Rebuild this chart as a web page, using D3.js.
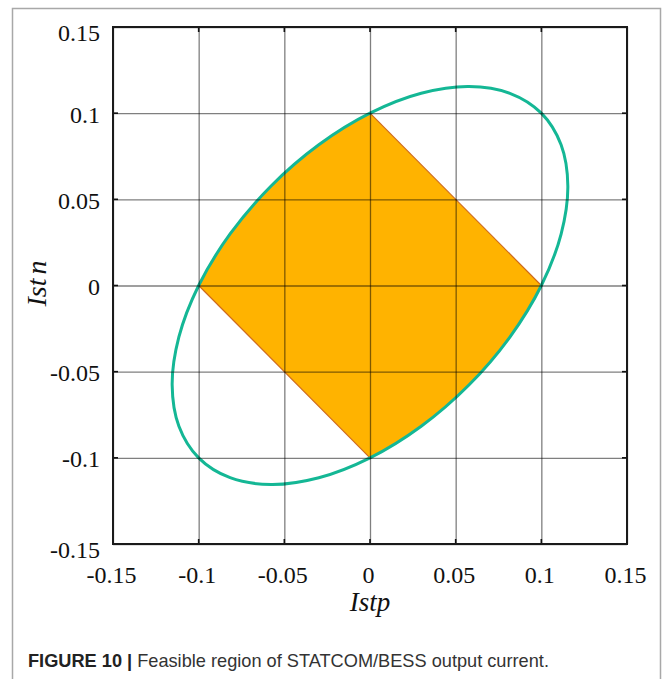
<!DOCTYPE html>
<html>
<head>
<meta charset="utf-8">
<script src="https://cdn.jsdelivr.net/npm/d3@7"></script>
<style>
  html, body { margin: 0; padding: 0; background: #fff; }
  svg { display: block; }
</style>
</head>
<body>
<svg id="chart" width="664" height="679"></svg>
<script>
// Axis ticks shared by both axes
const tickValues = [-0.15, -0.1, -0.05, 0, 0.05, 0.1, 0.15];
const tickLabels = ["-0.15", "-0.1", "-0.05", "0", "0.05", "0.1", "0.15"];

// Current-limit ellipse (Istp, Istn) sampled around its boundary
const ellipseIstp = [0.1, 0.08165, 0.05773, 0.02988, 0, -0.02989, -0.05774, -0.08165,
                     -0.1, -0.11154, -0.11547, -0.11153, -0.1, -0.08165, -0.05773, -0.02988,
                     0, 0.02989, 0.05774, 0.08165, 0.1, 0.11154, 0.11547, 0.11153];
const ellipseIstn = [0.1, 0.11153, 0.11547, 0.11154, 0.1, 0.08165, 0.05774, 0.02989,
                     0, -0.02988, -0.05773, -0.08165, -0.1, -0.11153, -0.11547, -0.11154,
                     -0.1, -0.08165, -0.05774, -0.02989, 0, 0.02988, 0.05773, 0.08165];

// Feasible region: bounded by Istp+Istn = ±0.1 and by the ellipse
const regionIstp = [0, 0.1, 0.1, 0, -0.1, -0.1];
const regionIstn = [0.1, 0, -0.1, -0.1, 0, 0.1];

// Straight limit edges of the region
const edgeIstp = [[0, 0.1], [0, -0.1]];
const edgeIstn = [[0.1, 0], [-0.1, 0]];

const svg = d3.select("#chart");
const L = 113, R = 627, T = 27, B = 544;
const x = d3.scaleLinear([-0.15, 0.15], [L, R]);
const y = d3.scaleLinear([-0.15, 0.15], [B, T]);

// Figure panel outline
svg.append("path")
  .attr("d", `M12.5,679 V8.5 H660.5 V679`)
  .attr("fill", "none").attr("stroke", "#a8a8a8").attr("stroke-width", 1.5);

const ellipsePts = ellipseIstp.map((v, i) => [v, ellipseIstn[i]]);
const ellipseLine = d3.line().x(d => x(d[0])).y(d => y(d[1])).curve(d3.curveCatmullRomClosed);

svg.append("clipPath").attr("id", "ellipseClip")
  .append("path").attr("d", ellipseLine(ellipsePts));

// Feasible region fill
const regionPts = regionIstp.map((v, i) => [v, regionIstn[i]]);
svg.append("path")
  .attr("clip-path", "url(#ellipseClip)")
  .attr("d", d3.line().x(d => x(d[0])).y(d => y(d[1]))(regionPts) + "Z")
  .attr("fill", "#ffb300");

// Straight edges
edgeIstp.forEach((xs, i) => {
  svg.append("line")
    .attr("x1", x(xs[0])).attr("x2", x(xs[1]))
    .attr("y1", y(edgeIstn[i][0])).attr("y2", y(edgeIstn[i][1]))
    .attr("stroke", "#cf6a1c").attr("stroke-width", 1.2);
});

// Ellipse boundary
svg.append("path")
  .attr("d", ellipseLine(ellipsePts))
  .attr("fill", "none").attr("stroke", "#14b795").attr("stroke-width", 3);

// Grid + labels through D3 axes
const fmt = d => tickLabels[tickValues.indexOf(d)];
const xAxis = d3.axisBottom(x).tickValues(tickValues).tickFormat(fmt)
  .tickSizeInner(-(B - T)).tickSizeOuter(0).tickPadding(22);
const yAxis = d3.axisLeft(y).tickValues(tickValues).tickFormat(fmt)
  .tickSizeInner(-(R - L)).tickSizeOuter(0).tickPadding(13);

const gx = svg.append("g").attr("transform", `translate(0,${B})`).call(xAxis);
const gy = svg.append("g").attr("transform", `translate(${L},0)`).call(yAxis);

[gx, gy].forEach(g => {
  g.select(".domain").remove();
  g.selectAll(".tick line").attr("stroke", "#000").attr("stroke-opacity", 0.5).attr("stroke-width", 1.3);
  g.selectAll(".tick text")
    .attr("font-family", "'Liberation Serif', 'Times New Roman', serif")
    .attr("font-size", 24).attr("fill", "#111");
});
gx.selectAll(".tick text").attr("dx", -2);
gy.selectAll(".tick text").attr("dy", (d, i) => (i === 0 || i === tickValues.length - 1) ? "0.58em" : "0.38em");

// Short inward ticks on the frame
const tickLen = 5;
tickValues.forEach(v => {
  svg.append("line").attr("x1", x(v)).attr("x2", x(v)).attr("y1", B).attr("y2", B - tickLen)
    .attr("stroke", "#111").attr("stroke-width", 1.6);
  svg.append("line").attr("x1", x(v)).attr("x2", x(v)).attr("y1", T).attr("y2", T + tickLen)
    .attr("stroke", "#111").attr("stroke-width", 1.6);
  svg.append("line").attr("y1", y(v)).attr("y2", y(v)).attr("x1", L).attr("x2", L + tickLen)
    .attr("stroke", "#111").attr("stroke-width", 1.6);
  svg.append("line").attr("y1", y(v)).attr("y2", y(v)).attr("x1", R).attr("x2", R - tickLen)
    .attr("stroke", "#111").attr("stroke-width", 1.6);
});

// Plot frame
svg.append("rect")
  .attr("x", L).attr("y", T).attr("width", R - L).attr("height", B - T)
  .attr("fill", "none").attr("stroke", "#1a1a1a").attr("stroke-width", 2);

// Axis titles
const serif = "'Liberation Serif', 'Times New Roman', serif";
svg.append("text")
  .attr("x", x(0)).attr("y", 611)
  .attr("text-anchor", "middle")
  .attr("font-family", serif).attr("font-style", "italic").attr("font-size", 27).attr("fill", "#111")
  .text("Istp");

const yt = svg.append("text")
  .attr("transform", `translate(46,${y(0) - 2}) rotate(-90)`)
  .attr("text-anchor", "middle")
  .attr("font-family", serif).attr("font-style", "italic").attr("font-size", 28).attr("fill", "#111");
yt.append("tspan").text("Ist");
yt.append("tspan").attr("dx", 4).text("n");

// Caption
const cap = svg.append("text")
  .attr("x", 28).attr("y", 667)
  .attr("font-family", "'Liberation Sans', Arial, sans-serif").attr("font-size", 18.2).attr("fill", "#222");
cap.append("tspan").attr("font-weight", "bold").text("FIGURE 10 | ");
cap.append("tspan").attr("fill", "#333").text("Feasible region of STATCOM/BESS output current.");
</script>
</body>
</html>
